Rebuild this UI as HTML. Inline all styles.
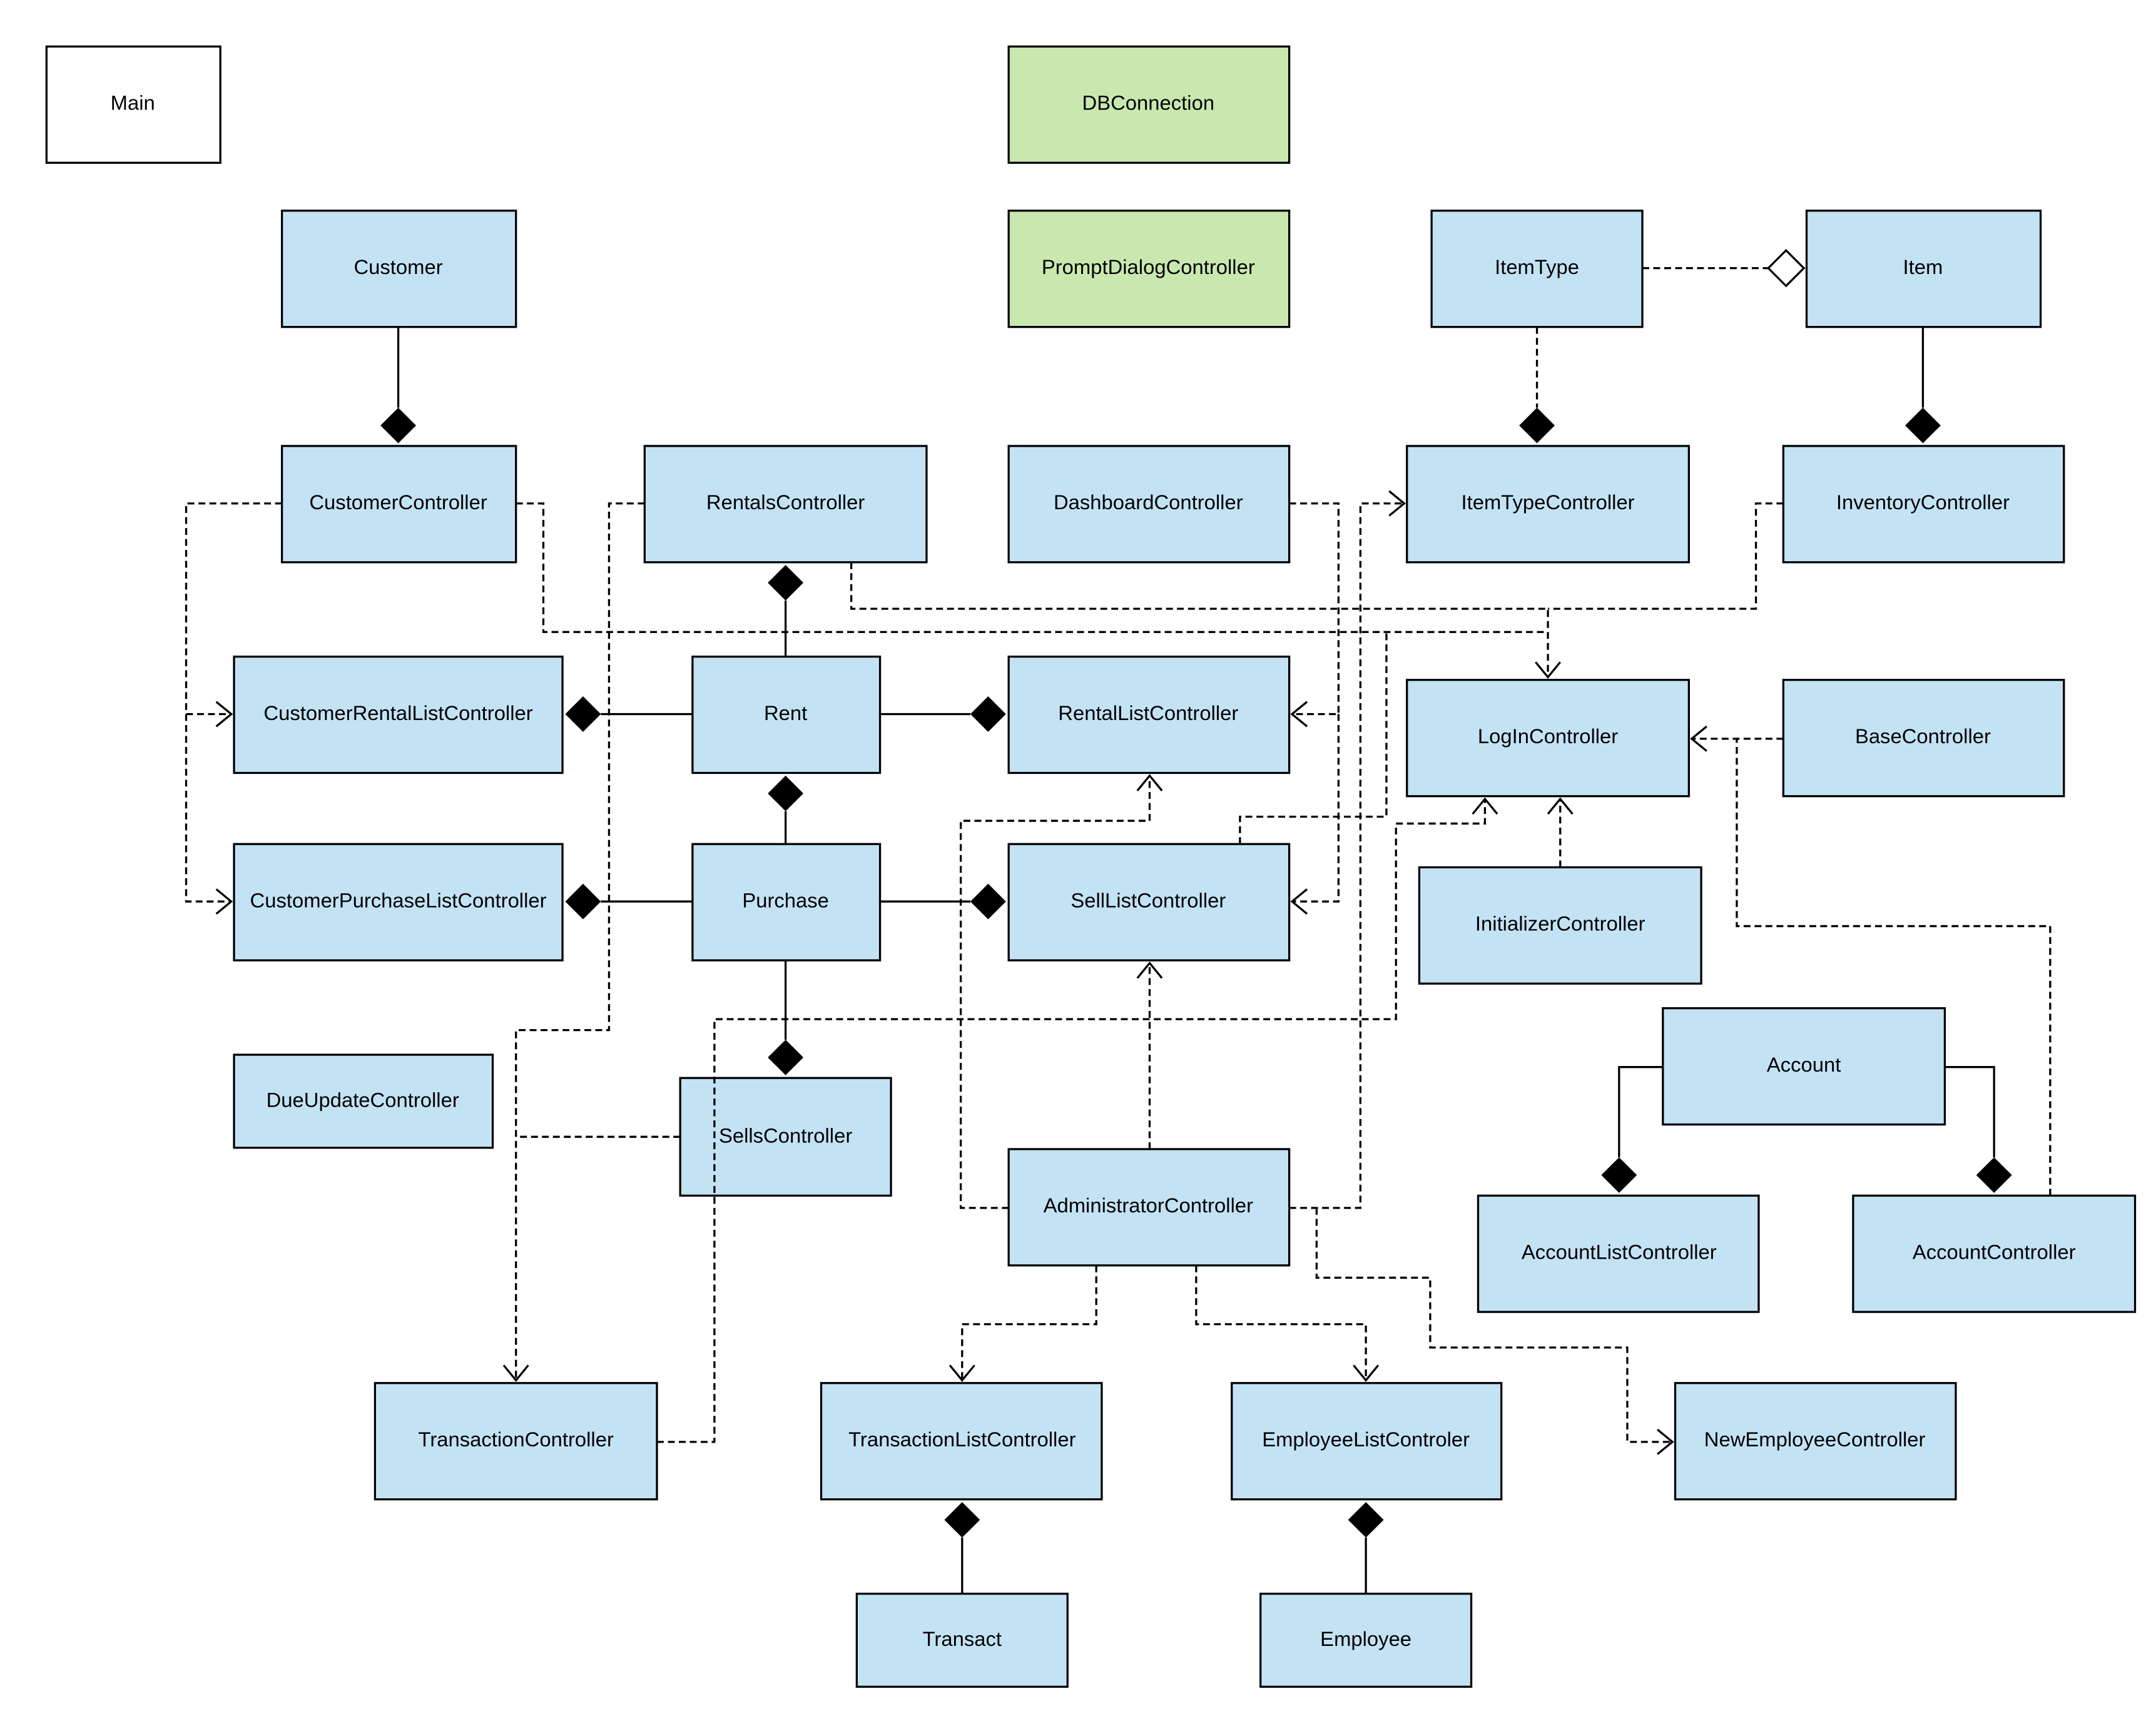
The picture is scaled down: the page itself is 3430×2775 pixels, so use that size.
<!DOCTYPE html>
<html><head><meta charset="utf-8"><style>html,body{margin:0;padding:0;background:#fff}svg{display:block}text{font-family:"Liberation Sans",sans-serif;font-size:15px;text-anchor:middle;dominant-baseline:central;fill:#000}</style></head><body>
<svg width="3430" height="2775" viewBox="0 0 1568 1269" preserveAspectRatio="none" xmlns="http://www.w3.org/2000/svg">
<defs>
<marker id="a" markerWidth="14" markerHeight="20" refX="13" refY="10" orient="auto" markerUnits="userSpaceOnUse"><path d="M2,1 L13,10 L2,19" fill="none" stroke="#000" stroke-width="1.5"/></marker>
</defs>
<g stroke="#000" stroke-width="1.5">
<rect x="34" y="34" width="127" height="85" fill="#fff"/>
<rect x="737" y="34" width="205" height="85" fill="#c9e8b0"/>
<rect x="737" y="154" width="205" height="85" fill="#c9e8b0"/>
<g fill="#c3e3f5">
<rect x="206" y="154" width="171" height="85"/>
<rect x="1046" y="154" width="154" height="85"/>
<rect x="1320" y="154" width="171" height="85"/>
<rect x="206" y="326" width="171" height="85"/>
<rect x="471" y="326" width="206" height="85"/>
<rect x="737" y="326" width="205" height="85"/>
<rect x="1028" y="326" width="206" height="85"/>
<rect x="1303" y="326" width="205" height="85"/>
<rect x="171" y="480" width="240" height="85"/>
<rect x="506" y="480" width="137" height="85"/>
<rect x="737" y="480" width="205" height="85"/>
<rect x="1028" y="497" width="206" height="85"/>
<rect x="1303" y="497" width="205" height="85"/>
<rect x="171" y="617" width="240" height="85"/>
<rect x="506" y="617" width="137" height="85"/>
<rect x="737" y="617" width="205" height="85"/>
<rect x="1037" y="634" width="206" height="85"/>
<rect x="1215" y="737" width="206" height="85"/>
<rect x="171" y="771" width="189" height="68"/>
<rect x="497" y="788" width="154" height="86"/>
<rect x="737" y="840" width="205" height="85"/>
<rect x="1080" y="874" width="205" height="85"/>
<rect x="1354" y="874" width="206" height="85"/>
<rect x="274" y="1011" width="206" height="85"/>
<rect x="600" y="1011" width="205" height="85"/>
<rect x="900" y="1011" width="197" height="85"/>
<rect x="1224" y="1011" width="205" height="85"/>
<rect x="626" y="1165" width="154" height="68"/>
<rect x="921" y="1165" width="154" height="68"/>
</g>
<g fill="none">
<path d="M291,239V298"/><path d="M1405,239V298"/>
<path d="M574,439V480"/><path d="M439,522H506"/><path d="M643,522H709"/>
<path d="M574,593V617"/><path d="M439,659H506"/><path d="M643,659H709"/>
<path d="M574,702V760"/><path d="M703,1124V1165"/><path d="M998,1124V1165"/>
<path d="M1215,780H1183V846"/><path d="M1421,780H1457V846"/>
</g>
<g fill="#000" stroke="none">
<path d="M291,298l13,13l-13,13l-13,-13z"/>
<path d="M1405,298l13,13l-13,13l-13,-13z"/>
<path d="M1123,298l13,13l-13,13l-13,-13z"/>
<path d="M574,413l13,13l-13,13l-13,-13z"/>
<path d="M413,522l13,-13l13,13l-13,13z"/>
<path d="M709,522l13,-13l13,13l-13,13z"/>
<path d="M574,567l13,13l-13,13l-13,-13z"/>
<path d="M413,659l13,-13l13,13l-13,13z"/>
<path d="M709,659l13,-13l13,13l-13,13z"/>
<path d="M574,760l13,13l-13,13l-13,-13z"/>
<path d="M703,1098l13,13l-13,13l-13,-13z"/>
<path d="M998,1098l13,13l-13,13l-13,-13z"/>
<path d="M1183,846l13,13l-13,13l-13,-13z"/>
<path d="M1457,846l13,13l-13,13l-13,-13z"/>
</g>
<path d="M1292,196l13,-13l13,13l-13,13z" fill="#fff"/>
<g fill="none" stroke-dasharray="5,3">
<path d="M1200,196H1292"/>
<path d="M1123,239V298"/>
<path d="M206,368H136V522H169" marker-end="url(#a)"/>
<path d="M136,522V659H169" marker-end="url(#a)"/>
<path d="M377,368H397V462H1131V495" marker-end="url(#a)"/>
<path d="M622,411V445H1131V462"/>
<path d="M1303,368H1283V445H1131"/>
<path d="M471,368H445V753H377V1009" marker-end="url(#a)"/>
<path d="M497,831H377"/>
<path d="M942,368H978V522H944" marker-end="url(#a)"/>
<path d="M978,522V659H944" marker-end="url(#a)"/>
<path d="M942,883H994V368H1026" marker-end="url(#a)"/>
<path d="M737,883H702V600H840V567" marker-end="url(#a)"/>
<path d="M840,840V704" marker-end="url(#a)"/>
<path d="M906,617V597H1013V462"/>
<path d="M480,1054H522V745H1020V602H1085V584" marker-end="url(#a)"/>
<path d="M1140,634V584" marker-end="url(#a)"/>
<path d="M1498,874V677H1269V540"/>
<path d="M1303,540H1236" marker-end="url(#a)"/>
<path d="M801,925V968H703V1009" marker-end="url(#a)"/>
<path d="M874,925V968H998V1009" marker-end="url(#a)"/>
<path d="M962,883V934H1045V985H1189V1054H1222" marker-end="url(#a)"/>
</g>
</g>
<text x="97" y="75">Main</text>
<text x="839" y="75">DBConnection</text>
<text x="839" y="195">PromptDialogController</text>
<text x="291" y="195">Customer</text>
<text x="1123" y="195">ItemType</text>
<text x="1405" y="195">Item</text>
<text x="291" y="367">CustomerController</text>
<text x="574" y="367">RentalsController</text>
<text x="839" y="367">DashboardController</text>
<text x="1131" y="367">ItemTypeController</text>
<text x="1405" y="367">InventoryController</text>
<text x="291" y="521">CustomerRentalListController</text>
<text x="574" y="521">Rent</text>
<text x="839" y="521">RentalListController</text>
<text x="1131" y="538">LogInController</text>
<text x="1405" y="538">BaseController</text>
<text x="291" y="658">CustomerPurchaseListController</text>
<text x="574" y="658">Purchase</text>
<text x="839" y="658">SellListController</text>
<text x="1140" y="675">InitializerController</text>
<text x="1318" y="778">Account</text>
<text x="265" y="804">DueUpdateController</text>
<text x="574" y="830">SellsController</text>
<text x="839" y="881">AdministratorController</text>
<text x="1183" y="915">AccountListController</text>
<text x="1457" y="915">AccountController</text>
<text x="377" y="1052">TransactionController</text>
<text x="703" y="1052">TransactionListController</text>
<text x="998" y="1052">EmployeeListControler</text>
<text x="1326" y="1052">NewEmployeeController</text>
<text x="703" y="1198">Transact</text>
<text x="998" y="1198">Employee</text>
</svg>
</body></html>
